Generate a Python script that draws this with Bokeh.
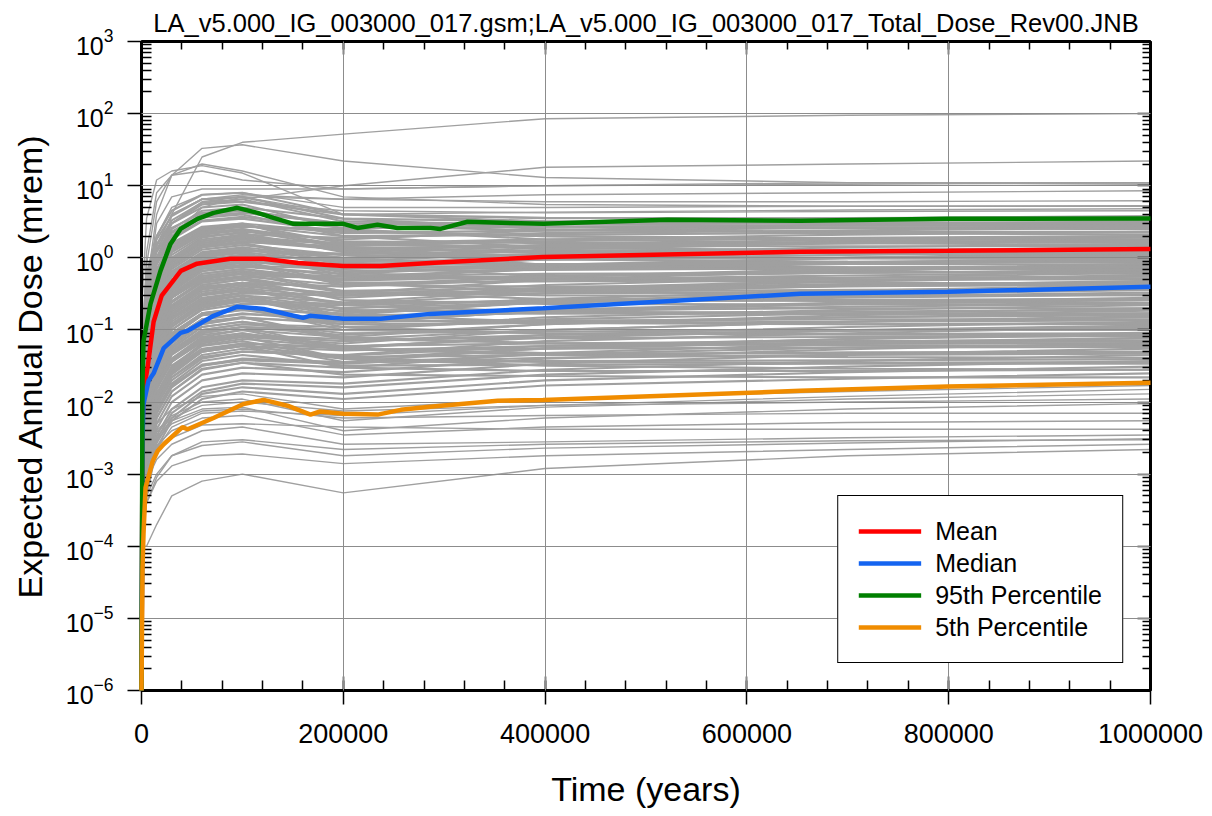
from bokeh.plotting import figure
from bokeh.models import (Range1d, FixedTicker, LinearAxis, BasicTickFormatter,
                          Legend, LegendItem, CustomJSTickFormatter)
from bokeh.embed import file_html
from bokeh.resources import INLINE

FONT = "Liberation Sans"
TITLE = "LA_v5.000_IG_003000_017.gsm;LA_v5.000_IG_003000_017_Total_Dose_Rev00.JNB"

# ---------------- data ----------------
X_TICKS = [0, 200000, 400000, 600000, 800000, 1000000]
X_MINOR = [0, 40000, 80000, 120000, 160000, 200000, 240000, 280000, 320000, 360000,
           400000, 440000, 480000, 520000, 560000, 600000, 640000, 680000, 720000,
           760000, 800000, 840000, 880000, 920000, 960000, 1000000]
Y_TICKS = [1e-6, 1e-5, 1e-4, 1e-3, 1e-2, 1e-1, 1e0, 1e1, 1e2, 1e3]
Y_MINOR = [m * d for d in [1e-6, 1e-5, 1e-4, 1e-3, 1e-2, 1e-1, 1e0, 1e1, 1e2]
           for m in [2, 3, 4, 5, 6, 7, 8, 9]]

# realizations (gray), all sampled at the same times
GRAY_TIMES = [1000, 5000, 15000, 30000, 60000, 100000, 200000, 400000, 700000, 1000000]
GRAY_HIGH = [
    [0.003, 0.05, 0.5, 4, 25, 40, 52, 85, 95, 100],
    [0.01, 0.4, 4, 14, 33, 37, 22, 13, 11, 10.5],
    [0.3, 3.5, 12, 16, 19, 15, 4, 3.5, 3.6, 3.7],
    [0.05, 1.2, 8, 14, 16, 12, 9, 10, 11, 11],
    [0.02, 0.8, 6, 14, 20, 16, 7, 5.5, 5.2, 5.2],
    [0.005, 0.1, 1, 3, 5.5, 6.5, 10, 18, 20, 22],
    [0.01, 0.3, 3, 7, 9, 9, 9, 10, 10.5, 11],
    [0.002, 0.1, 1.5, 4, 6.5, 7.5, 6.5, 7.5, 8, 8.5],
    [0.001, 0.05, 0.5, 2, 5, 7, 6.5, 6, 6, 6.2],
    [0.003, 0.2, 2, 5, 7.5, 8, 5, 5, 5.2, 5.3],
    [0.002, 0.08, 1, 3, 6, 7, 4, 4.3, 4.6, 4.8],
    [0.004, 0.15, 1.5, 4, 6.5, 6, 4.5, 4.2, 4.4, 4.5],
]
GRAY_MID = [
    [0.05, 0.4, 1.5, 3, 5.5, 6, 4, 3.6, 3.5, 3.4],
    [0.03, 0.3, 1.0, 2.5, 4.5, 5, 3.5, 3.2, 3.1, 3.1],
    [0.1, 0.6, 2, 4.5, 7.5, 8, 4, 3.2, 3.0, 2.9],
    [0.02, 0.15, 0.6, 1.4, 2.6, 3, 2.2, 2.4, 2.6, 2.7],
    [0.04, 0.3, 1, 2.3, 4, 4.5, 3, 2.7, 2.6, 2.5],
    [0.01, 0.1, 0.4, 0.9, 1.7, 2, 1.5, 1.8, 2.1, 2.3],
    [0.06, 0.5, 1.8, 3.8, 6.5, 7, 3.5, 2.5, 2.2, 2.1],
    [0.008, 0.07, 0.25, 0.6, 1.1, 1.3, 1.0, 1.4, 1.7, 1.95],
    [0.03, 0.25, 0.8, 1.8, 3.2, 3.5, 2.3, 2.0, 1.85, 1.8],
    [0.02, 0.15, 0.5, 1.2, 2.2, 2.5, 1.7, 1.6, 1.6, 1.65],
    [0.05, 0.4, 1.3, 3, 5, 5.5, 2.5, 1.8, 1.6, 1.5],
    [0.005, 0.05, 0.2, 0.45, 0.85, 1.0, 0.8, 1.0, 1.25, 1.4],
    [0.01, 0.1, 0.35, 0.8, 1.5, 1.8, 1.3, 1.25, 1.28, 1.3],
    [0.003, 0.03, 0.12, 0.28, 0.5, 0.6, 0.5, 0.75, 1.0, 1.2],
    [0.03, 0.3, 0.9, 2, 3.6, 4, 2, 1.4, 1.2, 1.1],
    [0.01, 0.08, 0.3, 0.7, 1.3, 1.5, 1.1, 1.0, 1.0, 1.0],
    [0.005, 0.05, 0.18, 0.4, 0.75, 0.9, 0.65, 0.75, 0.85, 0.92],
    [0.02, 0.15, 0.5, 1.1, 2, 2.2, 1.2, 0.95, 0.88, 0.85],
    [0.002, 0.02, 0.08, 0.18, 0.34, 0.4, 0.32, 0.5, 0.66, 0.78],
    [0.008, 0.07, 0.25, 0.55, 1.05, 1.2, 0.85, 0.78, 0.74, 0.72],
    [0.004, 0.04, 0.14, 0.32, 0.6, 0.7, 0.5, 0.56, 0.62, 0.66],
    [0.03, 0.2, 0.7, 1.6, 2.7, 3, 1.3, 0.8, 0.65, 0.6],
    [0.001, 0.012, 0.05, 0.12, 0.24, 0.3, 0.24, 0.36, 0.47, 0.55],
    [0.005, 0.04, 0.15, 0.36, 0.7, 0.8, 0.55, 0.5, 0.5, 0.5],
    [0.003, 0.025, 0.1, 0.22, 0.42, 0.5, 0.35, 0.38, 0.43, 0.46],
    [0.01, 0.09, 0.32, 0.75, 1.4, 1.6, 0.8, 0.55, 0.46, 0.42],
    [0.001, 0.008, 0.035, 0.08, 0.16, 0.2, 0.16, 0.25, 0.33, 0.39],
    [0.002, 0.02, 0.09, 0.2, 0.38, 0.45, 0.3, 0.32, 0.34, 0.36],
    [0.001, 0.01, 0.045, 0.1, 0.2, 0.25, 0.18, 0.24, 0.29, 0.33],
    [0.006, 0.05, 0.18, 0.42, 0.8, 0.9, 0.45, 0.34, 0.31, 0.3],
    [0.0008, 0.006, 0.025, 0.06, 0.12, 0.15, 0.12, 0.19, 0.24, 0.28],
    [0.002, 0.015, 0.07, 0.16, 0.3, 0.35, 0.24, 0.25, 0.26, 0.26],
    [0.004, 0.03, 0.12, 0.28, 0.52, 0.6, 0.33, 0.27, 0.25, 0.24],
    [0.0006, 0.005, 0.02, 0.05, 0.1, 0.12, 0.1, 0.15, 0.19, 0.22],
    [0.0015, 0.012, 0.05, 0.12, 0.23, 0.28, 0.18, 0.19, 0.2, 0.2],
    [0.0005, 0.004, 0.017, 0.04, 0.08, 0.1, 0.08, 0.12, 0.16, 0.185],
    [0.003, 0.025, 0.09, 0.21, 0.4, 0.45, 0.22, 0.18, 0.17, 0.17],
    [0.0004, 0.003, 0.013, 0.03, 0.065, 0.08, 0.065, 0.1, 0.13, 0.155],
    [0.001, 0.008, 0.035, 0.085, 0.17, 0.2, 0.13, 0.135, 0.14, 0.14],
    [0.0003, 0.0025, 0.011, 0.025, 0.052, 0.065, 0.055, 0.085, 0.11, 0.13],
    [0.002, 0.015, 0.06, 0.14, 0.26, 0.3, 0.16, 0.13, 0.12, 0.12],
    [0.0003, 0.002, 0.009, 0.02, 0.04, 0.05, 0.045, 0.07, 0.09, 0.11],
    [0.0007, 0.005, 0.022, 0.055, 0.11, 0.13, 0.09, 0.095, 0.1, 0.1],
    [0.0002, 0.0016, 0.007, 0.016, 0.032, 0.04, 0.036, 0.056, 0.075, 0.092],
    [0.0012, 0.01, 0.04, 0.09, 0.17, 0.2, 0.11, 0.09, 0.086, 0.085],
    [0.0002, 0.0014, 0.006, 0.014, 0.028, 0.035, 0.03, 0.048, 0.064, 0.078],
    [0.0005, 0.0035, 0.015, 0.036, 0.075, 0.09, 0.06, 0.065, 0.07, 0.072],
    [0.00015, 0.0012, 0.005, 0.012, 0.024, 0.03, 0.026, 0.04, 0.054, 0.066],
    [0.0009, 0.007, 0.03, 0.07, 0.13, 0.15, 0.08, 0.065, 0.061, 0.06],
    [0.00012, 0.001, 0.0042, 0.01, 0.02, 0.025, 0.022, 0.034, 0.046, 0.055],
    [0.0003, 0.0025, 0.01, 0.024, 0.05, 0.06, 0.042, 0.045, 0.049, 0.05],
    [0.0001, 0.0008, 0.0034, 0.008, 0.016, 0.02, 0.018, 0.028, 0.037, 0.045],
    [0.0006, 0.0045, 0.018, 0.045, 0.085, 0.1, 0.055, 0.045, 0.042, 0.041],
    [0.0001, 0.0007, 0.003, 0.007, 0.014, 0.018, 0.016, 0.024, 0.031, 0.037],
    [0.00025, 0.0018, 0.008, 0.018, 0.037, 0.045, 0.032, 0.033, 0.034, 0.034],
    [0.0001, 0.0006, 0.0027, 0.006, 0.013, 0.016, 0.013, 0.02, 0.026, 0.031],
    [0.0004, 0.003, 0.012, 0.03, 0.06, 0.07, 0.04, 0.032, 0.029, 0.028],
    [0.0001, 0.0005, 0.0023, 0.0055, 0.011, 0.014, 0.011, 0.017, 0.021, 0.025],
    [0.0002, 0.0014, 0.006, 0.014, 0.029, 0.035, 0.024, 0.023, 0.022, 0.022],
    [0.02, 0.2, 0.65, 1.5, 2.5, 2.8, 2.0, 2.1, 2.2, 2.25],
    [0.007, 0.06, 0.22, 0.5, 0.95, 1.1, 0.9, 1.15, 1.4, 1.55],
    [0.004, 0.035, 0.14, 0.34, 0.65, 0.75, 0.6, 0.8, 1.0, 1.1],
    [0.003, 0.025, 0.1, 0.25, 0.47, 0.55, 0.42, 0.55, 0.7, 0.82],
    [0.002, 0.017, 0.07, 0.17, 0.32, 0.38, 0.28, 0.38, 0.48, 0.58],
    [0.0014, 0.011, 0.047, 0.11, 0.22, 0.26, 0.2, 0.27, 0.35, 0.42],
    [0.0009, 0.007, 0.03, 0.075, 0.14, 0.17, 0.13, 0.18, 0.23, 0.26],
    [0.0006, 0.0045, 0.02, 0.047, 0.09, 0.11, 0.085, 0.12, 0.15, 0.17],
    [0.0004, 0.003, 0.013, 0.032, 0.062, 0.075, 0.058, 0.08, 0.1, 0.115],
    [0.012, 0.1, 0.38, 0.85, 1.6, 1.9, 1.35, 1.5, 1.65, 1.75],
    [0.009, 0.075, 0.28, 0.65, 1.2, 1.4, 1.0, 1.1, 1.2, 1.25],
    [0.006, 0.05, 0.19, 0.43, 0.82, 0.95, 0.7, 0.8, 0.88, 0.95],
    [0.004, 0.033, 0.13, 0.3, 0.56, 0.65, 0.48, 0.55, 0.62, 0.68],
    [0.0025, 0.02, 0.08, 0.19, 0.36, 0.42, 0.3, 0.35, 0.4, 0.44],
    [0.0016, 0.013, 0.055, 0.13, 0.25, 0.3, 0.2, 0.24, 0.28, 0.31],
    [0.0003, 0.0022, 0.009, 0.022, 0.045, 0.055, 0.04, 0.055, 0.068, 0.077],
]
GRAY_MID2 = [
    [0.015, 0.12, 0.45, 1.0, 1.9, 2.3, 1.8, 2.4, 2.9, 3.2],
    [0.04, 0.35, 1.2, 2.6, 4.2, 4.6, 2.8, 2.4, 2.3, 2.3],
    [0.012, 0.1, 0.4, 0.9, 1.6, 1.8, 1.6, 1.8, 1.9, 2.0],
    [0.025, 0.2, 0.7, 1.5, 2.6, 2.9, 1.6, 1.35, 1.3, 1.3],
    [0.006, 0.055, 0.2, 0.48, 0.9, 1.05, 0.95, 1.3, 1.6, 1.8],
    [0.018, 0.16, 0.55, 1.2, 2.1, 2.4, 1.4, 1.2, 1.15, 1.15],
    [0.004, 0.04, 0.15, 0.35, 0.66, 0.78, 0.7, 0.95, 1.2, 1.35],
    [0.009, 0.08, 0.28, 0.62, 1.15, 1.35, 0.75, 0.72, 0.74, 0.76],
    [0.003, 0.028, 0.11, 0.25, 0.48, 0.56, 0.52, 0.7, 0.86, 0.98],
    [0.007, 0.065, 0.23, 0.5, 0.95, 1.1, 0.58, 0.52, 0.53, 0.55],
    [0.0025, 0.022, 0.085, 0.2, 0.38, 0.44, 0.4, 0.55, 0.68, 0.75],
    [0.005, 0.045, 0.17, 0.38, 0.72, 0.85, 0.42, 0.4, 0.41, 0.42],
    [0.0018, 0.016, 0.063, 0.15, 0.28, 0.33, 0.3, 0.42, 0.53, 0.62],
    [0.004, 0.035, 0.13, 0.3, 0.56, 0.66, 0.34, 0.3, 0.3, 0.31],
    [0.0013, 0.012, 0.048, 0.11, 0.21, 0.25, 0.23, 0.32, 0.41, 0.48],
    [0.0028, 0.025, 0.095, 0.22, 0.42, 0.5, 0.26, 0.23, 0.225, 0.23],
    [0.001, 0.009, 0.036, 0.085, 0.16, 0.19, 0.17, 0.24, 0.31, 0.36],
    [0.002, 0.018, 0.07, 0.16, 0.31, 0.37, 0.19, 0.17, 0.165, 0.165],
    [0.0008, 0.007, 0.028, 0.065, 0.12, 0.145, 0.13, 0.18, 0.23, 0.27],
    [0.0015, 0.013, 0.052, 0.12, 0.23, 0.27, 0.14, 0.125, 0.12, 0.125],
    [0.0006, 0.0055, 0.021, 0.05, 0.095, 0.11, 0.1, 0.14, 0.17, 0.2],
    [0.0011, 0.01, 0.038, 0.09, 0.17, 0.2, 0.1, 0.09, 0.088, 0.09],
    [0.00045, 0.004, 0.016, 0.038, 0.072, 0.085, 0.075, 0.1, 0.13, 0.15],
    [0.0008, 0.007, 0.028, 0.066, 0.125, 0.15, 0.075, 0.066, 0.064, 0.066],
    [0.00035, 0.003, 0.012, 0.029, 0.055, 0.065, 0.058, 0.078, 0.098, 0.112],
    [0.0006, 0.005, 0.02, 0.048, 0.09, 0.11, 0.055, 0.048, 0.047, 0.048],
    [0.00025, 0.0022, 0.009, 0.022, 0.042, 0.05, 0.044, 0.06, 0.075, 0.085],
    [0.00045, 0.0038, 0.015, 0.036, 0.068, 0.08, 0.04, 0.036, 0.035, 0.036],
    [0.0002, 0.0017, 0.007, 0.017, 0.032, 0.038, 0.034, 0.046, 0.057, 0.064],
    [0.00035, 0.003, 0.011, 0.027, 0.05, 0.06, 0.03, 0.027, 0.027, 0.028],
    [0.03, 0.25, 0.85, 1.9, 3.3, 3.7, 2.6, 2.7, 2.8, 2.85],
    [0.05, 0.45, 1.5, 3.3, 5.8, 6.5, 3.2, 2.9, 2.8, 2.75],
    [0.01, 0.09, 0.33, 0.75, 1.4, 1.65, 1.45, 1.7, 1.85, 1.9],
    [0.02, 0.18, 0.62, 1.35, 2.4, 2.7, 2.4, 2.0, 1.75, 1.6],
    [0.008, 0.07, 0.26, 0.58, 1.1, 1.25, 1.15, 1.2, 1.18, 1.15],
    [0.014, 0.12, 0.42, 0.95, 1.7, 2.0, 1.25, 1.05, 0.98, 0.95],
    [0.005, 0.045, 0.17, 0.4, 0.75, 0.88, 0.8, 0.82, 0.82, 0.8],
    [0.011, 0.1, 0.35, 0.78, 1.4, 1.6, 0.95, 0.8, 0.72, 0.68],
    [0.0035, 0.032, 0.12, 0.28, 0.53, 0.62, 0.55, 0.6, 0.62, 0.63],
    [0.0075, 0.065, 0.24, 0.55, 1.0, 1.18, 0.62, 0.5, 0.45, 0.43],
]
GRAY_MID3 = [
    [0.02, 0.18, 0.6, 1.3, 2.3, 2.7, 2.5, 3.1, 3.5, 3.8],
    [0.035, 0.3, 1.0, 2.2, 3.8, 4.2, 3.0, 3.0, 3.0, 3.0],
    [0.015, 0.13, 0.45, 1.0, 1.8, 2.1, 1.9, 2.2, 2.4, 2.6],
    [0.008, 0.07, 0.25, 0.58, 1.05, 1.25, 1.1, 1.5, 1.8, 2.0],
    [0.012, 0.1, 0.36, 0.8, 1.45, 1.7, 1.3, 1.45, 1.6, 1.7],
    [0.02, 0.17, 0.58, 1.25, 2.2, 2.5, 1.5, 1.45, 1.45, 1.45],
    [0.005, 0.045, 0.17, 0.4, 0.75, 0.88, 0.78, 0.95, 1.1, 1.2],
    [0.009, 0.08, 0.28, 0.63, 1.15, 1.32, 0.9, 0.95, 1.0, 1.05],
    [0.0035, 0.03, 0.12, 0.28, 0.52, 0.6, 0.55, 0.7, 0.82, 0.9],
    [0.006, 0.055, 0.2, 0.45, 0.85, 1.0, 0.65, 0.68, 0.72, 0.75],
    [0.0025, 0.022, 0.088, 0.2, 0.38, 0.45, 0.4, 0.5, 0.57, 0.63],
    [0.004, 0.036, 0.14, 0.32, 0.6, 0.7, 0.45, 0.47, 0.5, 0.52],
    [0.0018, 0.016, 0.062, 0.145, 0.27, 0.32, 0.3, 0.36, 0.41, 0.44],
    [0.003, 0.027, 0.1, 0.24, 0.45, 0.53, 0.33, 0.34, 0.36, 0.37],
    [0.0012, 0.011, 0.043, 0.1, 0.19, 0.23, 0.22, 0.26, 0.29, 0.31],
    [0.002, 0.018, 0.07, 0.165, 0.31, 0.37, 0.23, 0.25, 0.26, 0.27],
    [0.0009, 0.008, 0.031, 0.073, 0.14, 0.165, 0.15, 0.18, 0.21, 0.23],
    [0.0015, 0.013, 0.05, 0.12, 0.22, 0.26, 0.16, 0.17, 0.18, 0.19],
    [0.0006, 0.0055, 0.022, 0.052, 0.1, 0.12, 0.11, 0.13, 0.15, 0.16],
    [0.001, 0.009, 0.035, 0.083, 0.16, 0.19, 0.12, 0.125, 0.13, 0.135],
    [0.00045, 0.004, 0.016, 0.037, 0.07, 0.083, 0.07, 0.085, 0.097, 0.105],
    [0.0007, 0.006, 0.024, 0.057, 0.11, 0.13, 0.075, 0.077, 0.08, 0.082],
    [0.0003, 0.0028, 0.011, 0.026, 0.05, 0.06, 0.052, 0.06, 0.066, 0.07],
    [0.0005, 0.0045, 0.017, 0.04, 0.077, 0.09, 0.053, 0.055, 0.057, 0.058],
    [0.0002, 0.0018, 0.0072, 0.017, 0.033, 0.039, 0.035, 0.041, 0.045, 0.047],
    [0.00035, 0.003, 0.012, 0.028, 0.054, 0.064, 0.036, 0.037, 0.038, 0.039],
]
GRAY_LOW = [
    [0.0001, 0.0001, 0.0002, 0.0005, 0.0008, 0.001, 0.00055, 0.0012, 0.0018, 0.0022],
    [0.0002, 0.0004, 0.0008, 0.0013, 0.0018, 0.0019, 0.0014, 0.0018, 0.0022, 0.0026],
    [0.0002, 0.0005, 0.001, 0.0018, 0.0028, 0.003, 0.0022, 0.0026, 0.0029, 0.003],
    [0.0003, 0.0008, 0.0016, 0.0026, 0.004, 0.0045, 0.0026, 0.0028, 0.0032, 0.0035],
    [0.0003, 0.001, 0.002, 0.0032, 0.0048, 0.005, 0.0045, 0.0042, 0.0042, 0.0042],
    [0.0004, 0.0012, 0.0025, 0.004, 0.006, 0.0065, 0.0035, 0.0045, 0.0052, 0.0055],
    [0.0005, 0.0015, 0.003, 0.005, 0.0075, 0.008, 0.006, 0.0065, 0.007, 0.007],
    [0.0005, 0.0016, 0.0033, 0.0055, 0.008, 0.0085, 0.004, 0.006, 0.008, 0.0095],
    [0.0006, 0.0018, 0.0038, 0.006, 0.009, 0.01, 0.0075, 0.009, 0.01, 0.011],
    [0.0006, 0.002, 0.004, 0.0065, 0.01, 0.011, 0.0055, 0.0085, 0.011, 0.013],
    [0.0003, 0.0009, 0.0022, 0.0045, 0.007, 0.0075, 0.0065, 0.009, 0.012, 0.015],
    [0.0008, 0.0025, 0.005, 0.008, 0.012, 0.013, 0.008, 0.011, 0.014, 0.017],
    [0.00015, 0.0004, 0.0009, 0.0018, 0.0025, 0.0028, 0.0018, 0.0023, 0.0027, 0.0031],
]

# statistics
MEAN_T = [0, 1000, 2000, 6000, 12000, 20000, 39000, 55000, 88000, 121000, 155000,
          200000, 237000, 286000, 398000, 653000, 799000, 1000000]
MEAN_V = [1e-6, 0.004, 0.014, 0.03, 0.13, 0.3, 0.66, 0.83, 0.97, 0.97, 0.85,
          0.77, 0.77, 0.85, 1.03, 1.21, 1.25, 1.33]
MEDIAN_T = [0, 1000, 2000, 7000, 12000, 22000, 38700, 45600, 71400, 95100, 121000,
            138000, 160000, 167000, 200000, 237000, 286000, 398000, 653000, 799000, 1000000]
MEDIAN_V = [1e-6, 0.003, 0.0094, 0.0197, 0.025, 0.056, 0.091, 0.097, 0.157, 0.21, 0.196,
            0.173, 0.147, 0.157, 0.143, 0.143, 0.167, 0.2, 0.317, 0.338, 0.396]
P95_T = [0, 1000, 2000, 8900, 18800, 28700, 38700, 55500, 71400, 95100, 115000, 130800,
         150600, 174400, 200200, 214000, 233900, 253700, 286400, 296300, 323100, 398400,
         521300, 653100, 798800, 1000000]
P95_V = [1e-6, 0.02, 0.07, 0.23, 0.66, 1.56, 2.52, 3.47, 4.2, 4.94, 4.2, 3.59,
         2.96, 2.96, 2.96, 2.6, 2.87, 2.6, 2.6, 2.52, 3.16, 2.96,
         3.37, 3.26, 3.47, 3.5]
P05_T = [0, 1000, 2000, 4000, 11000, 16000, 22000, 40600, 45600, 71400, 101000, 121000,
         144700, 167500, 177000, 200000, 234000, 257000, 286000, 353000, 398000, 653000,
         799000, 1000000]
P05_V = [1e-6, 5e-5, 1.5e-4, 6.5e-4, 0.0015, 0.0021, 0.0026, 0.0045, 0.0042, 0.006,
         0.0094, 0.0107, 0.0089, 0.0067, 0.0074, 0.0069, 0.0067, 0.0078, 0.0086, 0.0104,
         0.0107, 0.0143, 0.0164, 0.0185]

SERIES = [("Mean", MEAN_T, MEAN_V, "#FF0000"),
          ("Median", MEDIAN_T, MEDIAN_V, "#1464F0"),
          ("95th Percentile", P95_T, P95_V, "#007F00"),
          ("5th Percentile", P05_T, P05_V, "#F08C00")]

# ---------------- figure ----------------
p = figure(width=1212, height=816, y_axis_type="log",
           x_range=Range1d(0, 1000000), y_range=Range1d(1e-6, 1e3),
           output_backend="svg", toolbar_location=None, tools="",
           min_border_left=141, min_border_right=62, min_border_top=41,
           min_border_bottom=126)
p.background_fill_color = "white"
p.border_fill_color = "white"
p.outline_line_color = "black"
p.outline_line_width = 2.5

p.title.text = TITLE
p.title.align = "center"
p.title.offset = 4
p.title.text_font = FONT
p.title.text_font_size = "25.5px"
p.title.text_font_style = "normal"
p.title.text_color = "black"
p.title.standoff = 9

xt = FixedTicker(ticks=X_TICKS, minor_ticks=X_MINOR)
yt = FixedTicker(ticks=Y_TICKS, minor_ticks=Y_MINOR)

xa = p.xaxis[0]
xa.ticker = xt
xa.formatter = BasicTickFormatter(use_scientific=False)
xa.axis_label = "Time (years)"
ya = p.yaxis[0]
ya.ticker = yt
ya.axis_label = "Expected Annual Dose (mrem)"

for ax in (xa, ya):
    ax.axis_line_width = 3
    ax.axis_line_color = "black"
    ax.major_tick_line_color = "black"
    ax.minor_tick_line_color = "black"
    ax.major_tick_line_width = 1.5
    ax.minor_tick_line_width = 1.5
    ax.major_tick_out = 14
    ax.minor_tick_out = 0
    ax.minor_tick_in = 10
    ax.major_label_text_font = FONT
    ax.major_label_text_color = "black"
    ax.axis_label_text_font = FONT
    ax.axis_label_text_font_style = "normal"
    ax.axis_label_text_color = "black"
    ax.axis_label_text_font_size = "34px"

xa.major_tick_in = 14
xa.major_label_text_font_size = "27px"
xa.major_label_standoff = 19
xa.axis_label_standoff = 24

ya.major_tick_in = 0
ya.major_label_text_font_size = "25px"
ya.major_label_standoff = 14
ya.axis_label_standoff = 14

top = LinearAxis(ticker=xt, formatter=CustomJSTickFormatter(code="return ''"),
                 axis_line_width=3,
                 major_tick_in=13, major_tick_out=0, minor_tick_in=8, minor_tick_out=0,
                 major_tick_line_width=1.5, minor_tick_line_width=1.5,
                 major_label_standoff=0, major_label_text_font_size="10px")
p.add_layout(top, "above")
right = LinearAxis(ticker=yt, formatter=CustomJSTickFormatter(code="return ''"),
                   axis_line_width=3,
                   major_tick_in=13, major_tick_out=0, minor_tick_in=8, minor_tick_out=0,
                   major_tick_line_width=1.5, minor_tick_line_width=1.5,
                   major_label_standoff=0, major_label_text_font_size="10px")
p.add_layout(right, "right")

p.xgrid.ticker = xt
p.ygrid.ticker = yt
for g in (p.xgrid, p.ygrid):
    g.grid_line_color = "#8C8C8C"
    g.grid_line_width = 1
    g.level = "guide"

sparse = GRAY_HIGH + GRAY_LOW
dense = GRAY_MID + GRAY_MID2 + GRAY_MID3
p.multi_line(xs=[GRAY_TIMES] * len(sparse), ys=sparse, line_color="#A0A0A0",
             line_width=1.4)
p.multi_line(xs=[GRAY_TIMES] * len(dense), ys=dense, line_color="#A0A0A0",
             line_width=2.1)

items = []
for name, t, v, c in SERIES:
    r = p.line(t, v, line_color=c, line_width=4.5, level="overlay")
    items.append(LegendItem(label=name, renderers=[r]))

leg = Legend(items=items, location="bottom_right", margin=27,
             padding=20, spacing=2, glyph_width=63, glyph_height=30,
             label_height=30, label_standoff=14,
             label_text_font=FONT, label_text_font_size="25px",
             label_text_color="black",
             border_line_color="black", border_line_width=1.5, border_line_alpha=1.0,
             background_fill_color="white", background_fill_alpha=1.0)
p.add_layout(leg, "center")

open("out.html", "w").write(file_html(p, INLINE))
